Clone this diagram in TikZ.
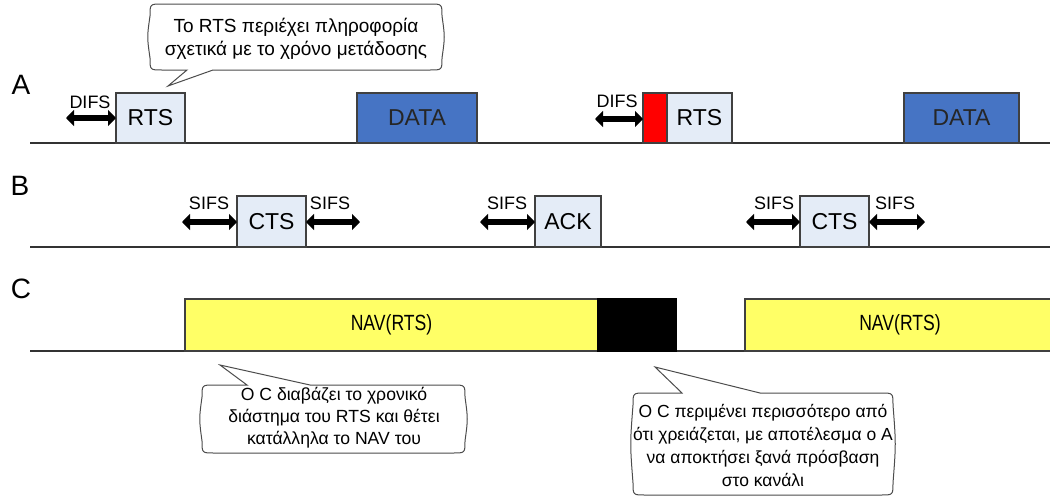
\documentclass[tikz,border=0pt]{standalone}
\usepackage{fontspec}
\setmainfont{Liberation Sans}
\newfontfamily\narrowsans[FakeStretch=0.8]{Liberation Sans}
\usetikzlibrary{arrows.meta}

\definecolor{ctrlfill}{RGB}{228,236,247}
\definecolor{framedraw}{RGB}{64,64,64}
\definecolor{datafill}{RGB}{70,116,196}
\definecolor{navfill}{RGB}{255,255,102}
\definecolor{busyred}{RGB}{255,0,0}

\begin{document}
\begin{tikzpicture}[x=1pt,y=-1pt,
  lane/.style={draw=black!80, line width=1.3pt},
  frame/.style={draw=framedraw, line width=1.2pt, inner sep=0pt, outer sep=0pt,
    anchor=south west, font=\fontsize{23}{26}\selectfont},
  ctrl/.style={frame, fill=ctrlfill},
  datafr/.style={frame, fill=datafill, text=black!85},
  navfr/.style={frame, fill=navfill, font=\narrowsans\fontsize{22}{26}\selectfont},
  busy/.style={frame, fill=black, draw=black},
  redfr/.style={frame, fill=busyred},
  station/.style={font=\fontsize{28}{30}\selectfont, inner sep=0pt},
  gap/.style={line width=5.2pt, {Triangle[length=8pt,width=16pt]}-{Triangle[length=8pt,width=16pt]}},
  gaptext/.style={font=\fontsize{18}{20}\selectfont, inner sep=0pt},
  callout/.style={draw=black!70, line width=1pt, fill=white},
  calltext/.style={align=center, inner sep=0pt}
]
\useasboundingbox (0,0) rectangle (1050,501);

% station labels
\node[station] (labA) at (21,85) {A};
\node[station] (labB) at (20,186) {B};
\node[station] (labC) at (21,289) {C};

% time lines
\coordinate (a0) at (30,143); \coordinate (a1) at (1050,143);
\coordinate (b0) at (30,247); \coordinate (b1) at (1050,247);
\coordinate (c0) at (30,351); \coordinate (c1) at (1050,351);
\draw[lane] (a0) -- (a1);
\draw[lane] (b0) -- (b1);
\draw[lane] (c0) -- (c1);

% station A frames
\node[ctrl, minimum width=69pt, minimum height=50pt] (rtsA) at (116,143) {RTS};
\node[datafr, minimum width=120pt, minimum height=50pt] (dataA) at (357,143) {DATA};
\node[redfr, minimum width=24pt, minimum height=50pt] (redA) at (643,143) {};
\node[ctrl, minimum width=65pt, minimum height=50pt] (rtsA2) at (667,143) {RTS};
\node[datafr, minimum width=115pt, minimum height=50pt] (dataA2) at (904,143) {DATA};

% station B frames
\node[ctrl, minimum width=69pt, minimum height=51pt] (ctsB) at (237,247) {CTS};
\node[ctrl, minimum width=66pt, minimum height=51pt] (ackB) at (535,247) {ACK};
\node[ctrl, minimum width=69pt, minimum height=51pt] (ctsB2) at (800,247) {CTS};

% station C frames
\node[navfr, minimum width=413pt, minimum height=52pt] (navC) at (185,351) {NAV(RTS)};
\node[busy, minimum width=78pt, minimum height=52pt] (busyC) at (598,351) {};
\node[navfr, minimum width=310pt, minimum height=52pt] (navC2) at (745,351) {NAV(RTS)};

% inter-frame spaces
\coordinate (difs1) at (66,118);
\draw[gap] (difs1) -- (difs1 -| rtsA.west);
\node[gaptext] (difs1t) at (90,102) {DIFS};
\coordinate (difs2) at (595,119);
\draw[gap] (difs2) -- (difs2 -| redA.west);
\node[gaptext] (difs2t) at (617,101) {DIFS};

\coordinate (sifs1) at (182,222);
\draw[gap] (sifs1) -- (sifs1 -| ctsB.west);
\node[gaptext] (sifs1t) at (209,203) {SIFS};
\coordinate (sifs2) at (360,222);
\draw[gap] (sifs2 -| ctsB.east) -- (sifs2);
\node[gaptext] (sifs2t) at (330,203) {SIFS};
\coordinate (sifs3) at (480,222);
\draw[gap] (sifs3) -- (sifs3 -| ackB.west);
\node[gaptext] (sifs3t) at (507,203) {SIFS};
\coordinate (sifs4) at (746,222);
\draw[gap] (sifs4) -- (sifs4 -| ctsB2.west);
\node[gaptext] (sifs4t) at (774,203) {SIFS};
\coordinate (sifs5) at (925,222);
\draw[gap] (sifs5 -| ctsB2.east) -- (sifs5);
\node[gaptext] (sifs5t) at (895,203) {SIFS};

% callout above RTS
\draw[callout] (162,4) -- (430,4) .. controls (442,4) .. (442,16)
  .. controls (445,37) .. (442,58) .. controls (442,70) .. (430,70)
  -- (213,70) -- (168,86) -- (187,70) -- (162,70)
  .. controls (150,70) .. (150,58) .. controls (147,37) .. (150,16)
  .. controls (150,4) .. (162,4) -- cycle;
\node[calltext, font=\fontsize{19}{23}\selectfont] (noteRTS) at (296,39)
  {Το RTS περιέχει πληροφορία\\σχετικά με το χρόνο μετάδοσης};

% callout below the first NAV
\draw[callout] (214,385) -- (247,385) -- (220,365) -- (310,385) -- (453,385)
  .. controls (465,385) .. (465,397) .. controls (468,419) .. (465,441)
  .. controls (465,453) .. (453,453) -- (214,453)
  .. controls (202,453) .. (202,441) .. controls (199,419) .. (202,397)
  .. controls (202,385) .. (214,385) -- cycle;
\node[calltext, font=\fontsize{17.6}{22}\selectfont] (noteNAV) at (334,418)
  {Ο C διαβάζει το χρονικό\\διάστημα του RTS και θέτει\\κατάλληλα το NAV του};

% callout below the black interval
\draw[callout] (645,393) -- (682,393) -- (655,367) -- (760,393) -- (881,393)
  .. controls (893,393) .. (893,405) .. controls (896,444) .. (893,483)
  .. controls (893,495) .. (881,495) -- (645,495)
  .. controls (633,495) .. (633,483) .. controls (630,444) .. (633,405)
  .. controls (633,393) .. (645,393) -- cycle;
\node[calltext, font=\fontsize{17.5}{23}\selectfont] (noteWait) at (763,445)
  {Ο C περιμένει περισσότερο από\\ότι χρειάζεται, με αποτέλεσμα ο Α\\να αποκτήσει ξανά πρόσβαση\\στο κανάλι};

\end{tikzpicture}
\end{document}
